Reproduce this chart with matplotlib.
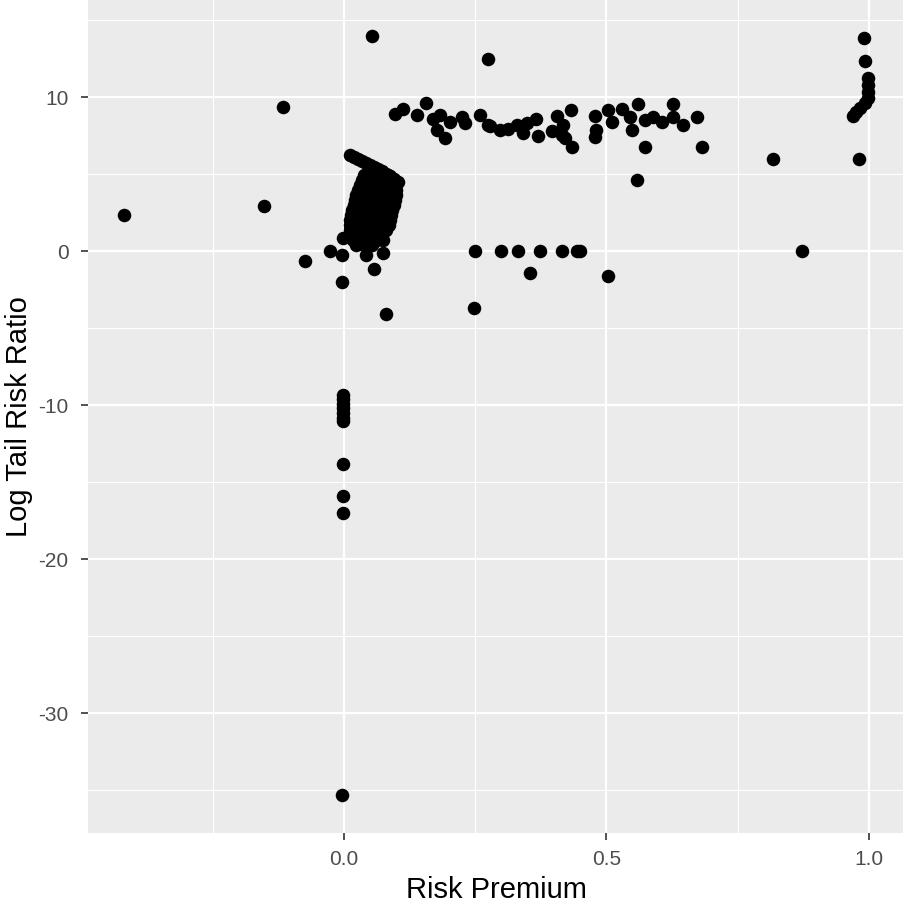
import matplotlib.pyplot as plt
from matplotlib.ticker import MultipleLocator

plt.rcParams['font.family'] = ['Liberation Sans', 'DejaVu Sans']

# scattered points
other_x = [-0.419, -0.152, -0.116, -0.074, -0.027, -0.002, -0.004, -0.004, 0.042, 0.074,
           0.057, 0.080, 0.053, 0.274, 0.818, 0.873, 0.502, 0.247, -0.004, 0.990,
           0.993, 0.982, 0.559]
other_y = [2.35, 2.94, 9.39, -0.65, 0.0, 0.85, -0.26, -1.96, -0.2, -0.13,
           -1.17, -4.04, 13.96, 12.52, 6.0, 0.0, -1.57, -3.65, -35.3, 13.83,
           12.39, 6.0, 4.63]

# points near risk premium = 1
one_x = [0.999, 0.999, 0.999, 0.999, 0.993, 0.984, 0.976, 0.970]
one_y = [11.29, 10.83, 10.37, 9.98, 9.65, 9.33, 9.07, 8.81]

# row at log tail risk ratio = 0
zero_x = [0.249, 0.299, 0.331, 0.373, 0.415, 0.443, 0.449, 0.354]
zero_y = [0.0, 0.0, 0.0, 0.0, 0.0, 0.0, 0.0, -1.37]

# column at risk premium = 0
neg_x = [-0.002] * 10
neg_y = [-9.3, -9.6, -9.9, -10.2, -10.5, -10.8, -11.0, -13.8, -15.9, -17.0]

# band around 8-9
band_x = [0.097, 0.112, 0.156, 0.139, 0.169, 0.183, 0.177, 0.192, 0.202, 0.225,
          0.230, 0.259, 0.274, 0.278, 0.297, 0.312, 0.329, 0.341, 0.348, 0.365,
          0.369, 0.396, 0.405, 0.417, 0.415, 0.432, 0.421, 0.434, 0.478, 0.478,
          0.481, 0.502, 0.510, 0.529, 0.544, 0.548, 0.561, 0.573, 0.573, 0.588,
          0.605, 0.626, 0.626, 0.645, 0.672, 0.683]
band_y = [8.94, 9.26, 9.65, 8.87, 8.61, 8.87, 7.89, 7.37, 8.41, 8.74,
          8.35, 8.87, 8.22, 8.15, 7.89, 7.96, 8.22, 7.70, 8.35, 8.61,
          7.50, 7.83, 8.81, 8.22, 7.57, 9.20, 7.37, 6.78, 8.81, 7.44,
          7.89, 9.20, 8.41, 9.26, 8.74, 7.89, 9.59, 8.55, 6.78, 8.74,
          8.41, 9.59, 8.74, 8.22, 8.74, 6.78]

# dense cluster near the origin
blob_x = [0.011, 0.019, 0.027, 0.034, 0.042, 0.049, 0.057, 0.065, 0.072, 0.080, 0.088, 0.095, 0.103,
          0.038, 0.053, 0.069, 0.084,
          0.034, 0.049, 0.065, 0.080, 0.093,
          0.030, 0.046, 0.061, 0.076, 0.091,
          0.027, 0.042, 0.057, 0.072, 0.088, 0.099,
          0.023, 0.038, 0.053, 0.069, 0.084, 0.099,
          0.021, 0.036, 0.051, 0.067, 0.082, 0.097,
          0.019, 0.034, 0.049, 0.065, 0.080, 0.095,
          0.015, 0.030, 0.046, 0.061, 0.076, 0.092,
          0.013, 0.029, 0.044, 0.059, 0.074, 0.089,
          0.011, 0.025, 0.040, 0.055, 0.070, 0.087,
          0.011, 0.027, 0.042, 0.057, 0.072, 0.086,
          0.011, 0.025, 0.040, 0.055, 0.070, 0.080,
          0.011, 0.027, 0.042, 0.057, 0.072,
          0.017, 0.032, 0.047, 0.063, 0.075,
          0.023, 0.038, 0.053]
blob_y = [6.26, 6.13, 6.0, 5.87, 5.74, 5.61, 5.48, 5.35, 5.22, 5.05, 4.89, 4.70, 4.5,
          4.96, 4.96, 4.96, 4.96,
          4.63, 4.63, 4.63, 4.63, 4.63,
          4.31, 4.31, 4.31, 4.31, 4.31,
          3.98, 3.98, 3.98, 3.98, 3.98, 3.98,
          3.65, 3.65, 3.65, 3.65, 3.65, 3.65,
          3.33, 3.33, 3.33, 3.33, 3.33, 3.33,
          3.0, 3.0, 3.0, 3.0, 3.0, 3.0,
          2.68, 2.68, 2.68, 2.68, 2.68, 2.68,
          2.35, 2.35, 2.35, 2.35, 2.35, 2.35,
          2.03, 2.03, 2.03, 2.03, 2.03, 2.03,
          1.70, 1.70, 1.70, 1.70, 1.70, 1.70,
          1.37, 1.37, 1.37, 1.37, 1.37, 1.37,
          1.04, 1.04, 1.04, 1.04, 1.04,
          0.72, 0.72, 0.72, 0.72, 0.72,
          0.39, 0.39, 0.39]

xs = other_x + one_x + zero_x + neg_x + band_x + blob_x
ys = other_y + one_y + zero_y + neg_y + band_y + blob_y

fig = plt.figure(figsize=(9.04, 9.07), dpi=100)
ax = fig.add_axes([88 / 904, 1 - 833 / 907, 1 - 88 / 904, 833 / 907])
ax.set_facecolor('#EBEBEB')
for s in ax.spines.values():
    s.set_visible(False)

ax.scatter(xs, ys, s=95, color='black', linewidths=0, zorder=3)

ax.set_xlim(-0.488, 1.067)
ax.set_ylim(-37.77, 16.33)
ax.xaxis.set_major_locator(MultipleLocator(0.5))
ax.xaxis.set_minor_locator(MultipleLocator(0.25))
ax.yaxis.set_major_locator(MultipleLocator(10))
ax.yaxis.set_minor_locator(MultipleLocator(5))
ax.grid(which='major', color='white', linewidth=1.6)
ax.grid(which='minor', color='white', linewidth=0.8)
ax.set_axisbelow(True)
ax.set_xticks([0.0, 0.5, 1.0])
ax.set_xticklabels(['0.0', '0.5', '1.0'])
ax.set_yticks([-30, -20, -10, 0, 10])
ax.set_yticklabels(['-30', '-20', '-10', '0', '10'])
ax.tick_params(which='major', length=5, width=1.2, color='#333333',
               labelcolor='#4D4D4D', labelsize=15)
ax.tick_params(axis='x', which='major', pad=7)
ax.tick_params(axis='y', which='major', pad=9)
ax.tick_params(which='minor', length=0)

ax.set_xlabel('Risk Premium', fontsize=21, labelpad=5)
ax.set_ylabel('Log Tail Risk Ratio', fontsize=21, labelpad=4)

fig.savefig('out.png', dpi=100)
